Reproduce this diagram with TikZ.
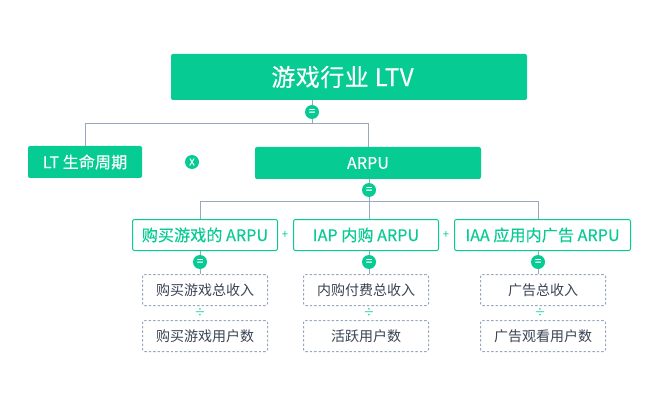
\documentclass[tikz,border=0pt]{standalone}
\usepackage{fontspec}
\setmainfont{Noto Sans CJK SC}
\newfontfamily\titlefont[LetterSpace=2,FakeBold=0.25]{Noto Sans CJK SC}
\newfontfamily\labelfont[LetterSpace=0.8,FakeBold=0.25]{Noto Sans CJK SC}
\newfontfamily\badgefont[FakeBold=0.6]{Noto Sans CJK SC}
\definecolor{mint}{HTML}{06CC93}
\definecolor{steel}{HTML}{98A8BE}
\definecolor{ink}{HTML}{3A4454}
\def\px{0.75pt}

\begin{document}
\begin{tikzpicture}[
  x=\px,y=-\px,
  every node/.style={align=center,inner sep=0pt},
  block/.style={fill=mint,text=white,rounded corners=1.5pt,font=\labelfont\fontsize{12}{14}\selectfont},
  outlined/.style={draw=mint,line width=\px,fill=white,text=mint,rounded corners=1.5pt,minimum height=31*\px,font=\labelfont\fontsize{12}{14}\selectfont},
  factor/.style={draw=steel,line width=\px,dash pattern=on 1.8pt off 1.5pt,fill=white,text=ink,rounded corners=1.5pt,minimum width=125*\px,minimum height=31*\px,font=\fontsize{10.5}{13}\selectfont},
  badge/.style={circle,fill=mint,text=white,minimum size=14*\px,font=\badgefont\fontsize{8.5}{9}\selectfont},
  op/.style={text=mint,font=\fontsize{8.5}{9}\selectfont},
  to/.style={steel,line width=\px}]

  \useasboundingbox (0,0) rectangle (660,406);

  % Position the nodes at pixel coordinates
  \node[block,minimum width=356*\px,minimum height=46*\px,font=\titlefont\fontsize{18}{22}\selectfont] (LTV) at (349,77) {\raisebox{-.75pt}{游戏行业 LTV}\hspace{9.75pt}};
  \node[badge] (eqLTV) at (312,112) {=};
  \node[block,minimum width=114*\px,minimum height=32*\px] (LT) at (85,162) {\raisebox{-.5pt}{LT 生命周期}};
  \node[badge,font=\badgefont\fontsize{7}{8}\selectfont] (times) at (192,162) {X};
  \node[block,minimum width=226*\px,minimum height=32*\px] (ARPU) at (368,163) {\raisebox{-.5pt}{ARPU}};
  \node[badge] (eqARPU) at (369,190) {=};

  \node[outlined,minimum width=145*\px] (buy) at (205,235) {购买游戏的 ARPU};
  \node[outlined,minimum width=145*\px] (IAP) at (366,235) {IAP 内购 ARPU};
  \node[outlined,minimum width=176*\px] (IAA) at (542.5,235) {IAA 应用内广告 ARPU};
  \node[op] (plusA) at (285,235) {+};
  \node[op] (plusB) at (446,235) {+};

  \node[badge] (eqBuy) at (200,262) {=};
  \node[badge] (eqIAP) at (369,262) {=};
  \node[badge] (eqIAA) at (538,262) {=};

  \node[factor] (buyIncome) at (205,290) {购买游戏总收入};
  \node[op] (divBuy) at (200,313) {÷};
  \node[factor] (buyUsers) at (205,336) {购买游戏用户数};
  \node[factor] (IAPIncome) at (366,290) {内购付费总收入};
  \node[op] (divIAP) at (369,313) {÷};
  \node[factor] (IAPUsers) at (366,336) {活跃用户数};
  \node[factor] (IAAIncome) at (543,290) {广告总收入};
  \node[op] (divIAA) at (540,313) {÷};
  \node[factor] (IAAUsers) at (543,336) {广告观看用户数};

  \coordinate (busLTV) at (312,123.5);
  \coordinate (busARPU) at (369,201.5);

  % Draw the connectors between the nodes
  \draw[to] (eqLTV |- LTV.south) -- (eqLTV);
  \draw[to] (eqLTV) -- (busLTV);
  \draw[to] (busLTV) -| (LT.north);
  \draw[to] (busLTV) -| (ARPU.north);
  \draw[to] (eqARPU |- ARPU.south) -- (eqARPU);
  \draw[to] (eqARPU) -- (busARPU);
  \draw[to] (busARPU) -| (eqBuy |- buy.north);
  \draw[to] (busARPU) -- (eqIAP |- IAP.north);
  \draw[to] (busARPU) -| (eqIAA |- IAA.north);
  \draw[to] (eqBuy |- buy.south) -- (eqBuy);
  \draw[to] (eqBuy) -- (eqBuy |- buyIncome.north);
  \draw[to] (eqIAP |- IAP.south) -- (eqIAP);
  \draw[to] (eqIAP) -- (eqIAP |- IAPIncome.north);
  \draw[to] (eqIAA |- IAA.south) -- (eqIAA);
  \draw[to] (eqIAA) -- (eqIAA |- IAAIncome.north);
\end{tikzpicture}
\end{document}
